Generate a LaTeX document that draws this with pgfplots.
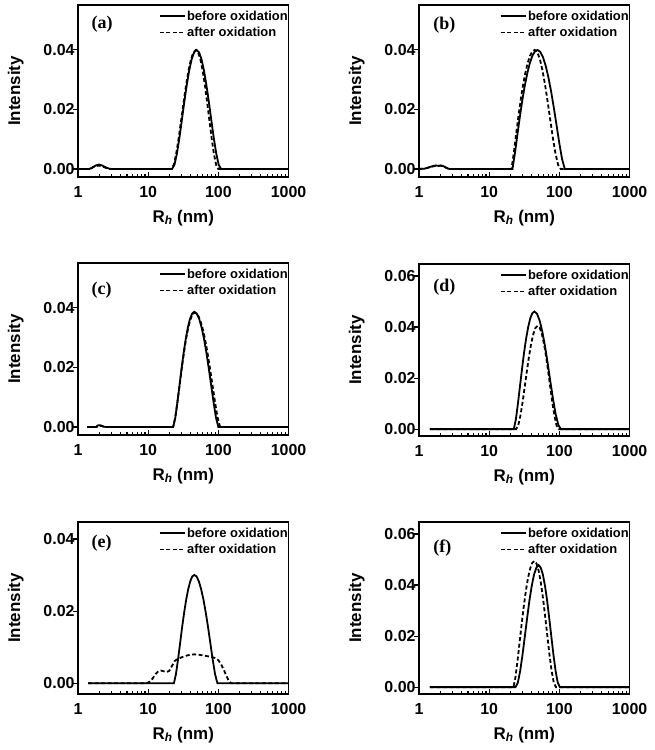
\documentclass[border=0pt]{standalone}
\usepackage{fontspec}
\setmainfont{Liberation Sans}
\newfontfamily\timesfont{Liberation Serif}
\usepackage{pgfplots}
\pgfplotsset{compat=1.18}
\pgfplotsset{legend image code/.code={\draw[#1] (0bp,0bp) -- (25bp,0bp);}}
\pgfplotsset{every axis/.append style={
  width=210.5bp, height=172bp, scale only axis,
  xmin=1, xmax=1000,
  xtick={1,10,100,1000}, xticklabels={1,10,100,1000},
  minor xtick={2,3,4,5,6,7,8,9,20,30,40,50,60,70,80,90,200,300,400,500,600,700,800,900},
  xtick pos=left, ytick pos=left,
  tick align=inside,
  major tick length=5bp, minor tick length=3bp,
  axis line style={line width=1.4bp},
  scaled y ticks=false,
  yticklabel style={/pgf/number format/fixed, /pgf/number format/fixed zerofill, /pgf/number format/precision=2, /pgf/number format/assume math mode=true},
  xticklabel style={yshift=-6bp, /pgf/number format/assume math mode=true},
  tick label style={font=\bfseries\fontsize{16}{18}\selectfont},
  label style={font=\bfseries\fontsize{17}{19}\selectfont},
  xlabel={R\textsubscript{\itshape h} (nm)},
  ylabel={Intensity},
  xlabel style={at={(axis description cs:0.5,-0.262)}, anchor=base},
  ylabel style={at={(axis description cs:-0.296,0.5)}, anchor=center},
  legend style={draw=none, fill=none, at={(rel axis cs:1,1)}, anchor=north east,
    xshift=1bp, yshift=-4bp, font=\bfseries\fontsize{13}{14}\selectfont,
    row sep=2.5bp, inner sep=0pt, nodes={inner sep=1.5bp}},
  legend cell align=left,
}}
\pgfplotsset{every major y tick/.append style={xshift=-5bp}}
\pgfplotsset{every tick/.append style={line width=1.1bp, black}}
\tikzset{
 solidcurve/.style={black, line width=1.8bp},
 dashcurve/.style={black, line width=1.8bp, dash pattern=on 4bp off 2.5bp},
 paneltag/.style={anchor=west, font=\timesfont\bfseries\fontsize{18}{20}\selectfont},
}
\begin{document}
\begin{tikzpicture}
\useasboundingbox (0bp,0bp) rectangle (655bp,-750bp);
% (a)
\begin{semilogxaxis}[at={(78bp,-5bp)}, anchor=north west, ymin=-0.0027, ymax=0.0551, ytick={0,0.02,0.04}]
\addplot[solidcurve] coordinates {(1,0) (1.45,0) (1.6,0.0005) (1.8,0.0012) (2.0,0.0015) (2.2,0.0012) (2.5,0.0005) (2.8,0.0001) (3.0,0)
(21.89,0) (23.71,0.0014) (25.72,0.0052) (27.87,0.0104) (30.20,0.0164) (32.73,0.0225) (35.48,0.0282) (38.46,0.0331) (41.69,0.0369) (45.19,0.0392) (48.98,0.0400) (53.09,0.0392) (57.54,0.0369) (62.37,0.0331) (67.62,0.0282) (73.31,0.0225) (79.43,0.0164) (86.14,0.0104) (93.35,0.0052) (101.2,0.0014) (109.6,0) (1000,0)};
\addplot[dashcurve] coordinates {(1,0) (1.5,0) (1.65,0.0006) (1.8,0.0010) (2.0,0.0011) (2.3,0.0007) (2.6,0.0002) (2.8,0)
(21.38,0) (23.18,0.0014) (25.12,0.0052) (27.24,0.0104) (29.52,0.0164) (32.00,0.0225) (34.69,0.0282) (37.58,0.0331) (40.75,0.0369) (44.17,0.0392) (47.88,0.0400) (51.55,0.0392) (55.48,0.0369) (59.71,0.0331) (64.29,0.0282) (69.21,0.0225) (74.49,0.0164) (80.18,0.0104) (86.34,0.0052) (92.93,0.0014) (100,0) (1000,0)};
\legend{before oxidation, after oxidation}
\node[paneltag] at (rel axis cs:0.048,0.89) {(a)};
\end{semilogxaxis}
% (b)
\begin{semilogxaxis}[at={(419bp,-5bp)}, anchor=north west, ymin=-0.0027, ymax=0.0551, ytick={0,0.02,0.04}]
\addplot[solidcurve] coordinates {(1,0) (1.2,0.0001) (1.4,0.0006) (1.6,0.0010) (1.75,0.0012) (1.9,0.0010) (2.05,0.0012) (2.25,0.0009) (2.5,0.0003) (2.7,0)
(21.48,0) (23.32,0.0054) (25.31,0.0117) (27.48,0.0178) (29.81,0.0234) (32.37,0.0283) (35.13,0.0324) (38.13,0.0357) (41.40,0.0381) (44.92,0.0395) (48.78,0.0400) (53.34,0.0394) (58.37,0.0376) (63.85,0.0347) (69.84,0.0308) (76.41,0.0260) (83.57,0.0205) (91.45,0.0146) (100,0.0086) (109.4,0.0033) (119.7,0) (1000,0)};
\addplot[dashcurve] coordinates {(1,0) (1.2,0.0001) (1.4,0.0005) (1.6,0.0009) (1.8,0.0011) (2.0,0.0011) (2.2,0.0009) (2.5,0.0003) (2.7,0)
(20.80,0) (22.45,0.0054) (24.23,0.0117) (26.15,0.0178) (28.21,0.0234) (30.45,0.0283) (32.87,0.0324) (35.46,0.0357) (38.28,0.0381) (41.31,0.0395) (44.57,0.0400) (48.55,0.0392) (52.85,0.0369) (57.54,0.0331) (62.68,0.0282) (68.26,0.0225) (74.32,0.0164) (80.94,0.0104) (88.13,0.0052) (95.98,0.0014) (104.5,0) (1000,0)};
\legend{before oxidation, after oxidation}
\node[paneltag] at (rel axis cs:0.052,0.884) {(b)};
\end{semilogxaxis}
% (c)
\begin{semilogxaxis}[at={(78bp,-263bp)}, anchor=north west, ymin=-0.0027, ymax=0.0551, ytick={0,0.02,0.04}]
\addplot[solidcurve] coordinates {(1.35,0) (1.8,0) (1.95,0.0006) (2.1,0.0006) (2.3,0.0001) (2.5,0)
(22.76,0) (24.39,0.0032) (26.13,0.0084) (27.99,0.0141) (29.99,0.0198) (32.15,0.0252) (34.45,0.0298) (36.91,0.0336) (39.54,0.0364) (42.37,0.0381) (45.41,0.0387) (49.15,0.0381) (53.17,0.0364) (57.55,0.0336) (62.28,0.0298) (67.38,0.0252) (72.94,0.0198) (78.92,0.0141) (85.42,0.0084) (92.45,0.0032) (100,0) (1000,0)};
\addplot[dashcurve] coordinates {(1.35,0) (1.85,0) (2.0,0.0004) (2.2,0.0003) (2.45,0)
(22.65,0) (24.33,0.0032) (26.13,0.0083) (28.05,0.0140) (30.13,0.0197) (32.37,0.0250) (34.77,0.0297) (37.33,0.0334) (40.09,0.0362) (43.07,0.0379) (46.26,0.0385) (50.24,0.0379) (54.60,0.0362) (59.30,0.0334) (64.44,0.0297) (69.98,0.0250) (76.06,0.0197) (82.63,0.0140) (89.76,0.0083) (97.54,0.0032) (105.9,0) (1000,0)};
\legend{before oxidation, after oxidation}
\node[paneltag] at (rel axis cs:0.048,0.843) {(c)};
\end{semilogxaxis}
% (d)
\begin{semilogxaxis}[at={(419bp,-264bp)}, anchor=north west, ymin=-0.0027, ymax=0.0647, ytick={0,0.02,0.04,0.06}]
\addplot[solidcurve] coordinates {(1.43,0) (22.44,0) (24.01,0.0038) (25.69,0.0100) (27.48,0.0168) (29.40,0.0236) (31.44,0.0300) (33.64,0.0355) (35.99,0.0400) (38.51,0.0434) (41.20,0.0454) (44.07,0.0461) (48.08,0.0452) (52.45,0.0425) (57.22,0.0382) (62.42,0.0326) (68.10,0.0260) (74.28,0.0189) (81.05,0.0120) (88.41,0.0060) (96.47,0.0017) (105.2,0) (1000,0)};
\addplot[dashcurve] coordinates {(1.43,0) (24.22,0) (26.00,0.0015) (27.89,0.0053) (29.93,0.0105) (32.13,0.0166) (34.49,0.0228) (37.01,0.0286) (39.71,0.0335) (42.63,0.0373) (45.76,0.0397) (49.11,0.0405) (52.59,0.0397) (56.31,0.0373) (60.33,0.0335) (64.62,0.0286) (69.21,0.0228) (74.12,0.0166) (79.36,0.0105) (85.02,0.0053) (91.07,0.0015) (97.54,0) (1000,0)};
\legend{before oxidation, after oxidation}
\node[paneltag] at (rel axis cs:0.052,0.866) {(d)};
\end{semilogxaxis}
% (e)
\begin{semilogxaxis}[at={(78bp,-522bp)}, anchor=north west, ymin=-0.003, ymax=0.0447, ytick={0,0.02,0.04}]
\addplot[solidcurve] coordinates {(1.39,0) (23.29,0) (24.89,0.0025) (26.61,0.0065) (28.45,0.0109) (30.42,0.0154) (32.52,0.0195) (34.77,0.0231) (37.16,0.0260) (39.72,0.0282) (42.47,0.0296) (45.41,0.0300) (48.99,0.0296) (52.83,0.0282) (56.99,0.0260) (61.49,0.0231) (66.31,0.0195) (71.53,0.0154) (77.17,0.0109) (83.24,0.0065) (89.78,0.0025) (96.87,0) (1000,0)};
\addplot[dashcurve] coordinates {(1.39,0) (9.55,0) (10.47,0.0004) (11.48,0.0012) (12.59,0.0024) (13.80,0.0032) (15.14,0.0035) (16.60,0.0033) (18.20,0.0031) (19.95,0.0034) (21.88,0.0048) (23.99,0.0062) (26.30,0.0067) (30.20,0.0072) (34.67,0.0076) (39.81,0.0079) (45.71,0.0080) (52.48,0.0079) (60.26,0.0077) (69.18,0.0075) (79.43,0.0073) (89.13,0.0070) (100,0.0064) (109.6,0.0052) (120.2,0.0036) (131.8,0.0018) (141.3,0.0006) (151.4,0) (1000,0)};
\legend{before oxidation, after oxidation}
\node[paneltag] at (rel axis cs:0.048,0.878) {(e)};
\end{semilogxaxis}
% (f)
\begin{semilogxaxis}[at={(419bp,-522bp)}, anchor=north west, ymin=-0.0027, ymax=0.0647, ytick={0,0.02,0.04,0.06}]
\addplot[solidcurve] coordinates {(1.43,0) (23.71,0) (25.60,0.0017) (27.61,0.0062) (29.78,0.0124) (32.15,0.0196) (34.69,0.0269) (37.41,0.0338) (40.38,0.0396) (43.57,0.0441) (46.99,0.0468) (50.71,0.0478) (54.38,0.0468) (58.31,0.0441) (62.52,0.0396) (67.02,0.0338) (71.88,0.0269) (77.09,0.0196) (82.65,0.0124) (88.61,0.0062) (95.01,0.0017) (101.9,0) (1000,0)};
\addplot[dashcurve] coordinates {(1.43,0) (22.19,0) (23.76,0.0041) (25.45,0.0107) (27.26,0.0180) (29.20,0.0253) (31.27,0.0321) (33.49,0.0380) (35.87,0.0429) (38.42,0.0465) (41.15,0.0487) (44.07,0.0494) (47.29,0.0484) (50.76,0.0456) (54.48,0.0409) (58.47,0.0349) (62.75,0.0278) (67.34,0.0203) (72.29,0.0128) (77.58,0.0064) (83.25,0.0018) (89.34,0) (1000,0)};
\legend{before oxidation, after oxidation}
\node[paneltag] at (rel axis cs:0.052,0.849) {(f)};
\end{semilogxaxis}
\end{tikzpicture}
\end{document}
